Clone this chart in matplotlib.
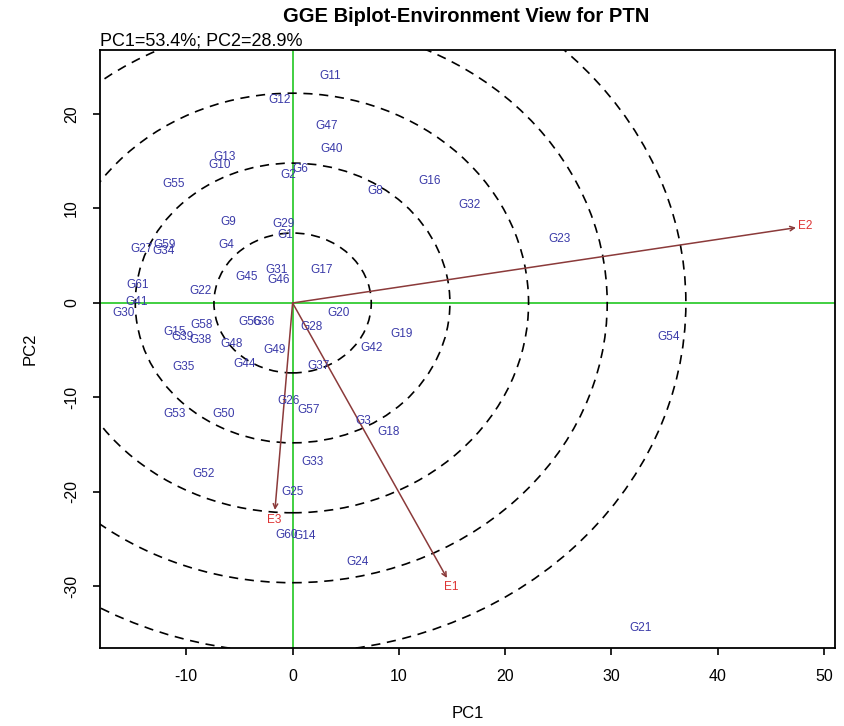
import numpy as np
import matplotlib
matplotlib.use("Agg")
import matplotlib.pyplot as plt
from matplotlib.patches import Circle

plt.rcParams['font.family'] = ['Liberation Sans', 'DejaVu Sans']

# Genotype scores on the first two principal components
genotypes = ["G11", "G12", "G47", "G40", "G13", "G10", "G55", "G2", "G6", "G8",
             "G16", "G32", "G23", "G9", "G29", "G1", "G4", "G27", "G59", "G34",
             "G61", "G41", "G30", "G22", "G45", "G31", "G46", "G17", "G20", "G28",
             "G19", "G42", "G37", "G49", "G44", "G48", "G56", "G36", "G58", "G15",
             "G39", "G38", "G35", "G26", "G57", "G53", "G50", "G3", "G18", "G33",
             "G52", "G25", "G60", "G14", "G24", "G54", "G21"]
g_pc1 = [3.52, -1.19, 3.24, 3.71, -6.36, -6.88, -11.2, -0.39, 0.70, 7.75,
         12.93, 16.69, 25.11, -6.03, -0.81, -0.71, -6.22, -14.21, -12.0, -12.14,
         -14.54, -14.64, -15.91, -8.71, -4.34, -1.47, -1.33, 2.72, 4.32, 1.78,
         10.24, 7.42, 2.44, -1.66, -4.48, -5.75, -4.01, -2.69, -8.57, -11.06,
         -10.40, -8.71, -10.26, -0.39, 1.50, -11.06, -6.50, 6.67, 9.02, 1.87,
         -8.38, -0.01, -0.57, 1.17, 6.11, 35.36, 32.78]
g_pc2 = [24.05, 21.48, 18.73, 16.30, 15.40, 14.60, 12.59, 13.49, 14.23, 11.80,
         12.86, 10.42, 6.77, 8.62, 8.41, 7.20, 6.14, 5.66, 6.14, 5.45,
         1.90, 0.11, -1.06, 1.27, 2.80, 3.49, 2.43, 3.49, -1.11, -2.59,
         -3.28, -4.81, -6.67, -4.97, -6.46, -4.34, -2.01, -2.01, -2.28, -3.07,
         -3.60, -3.92, -6.77, -10.42, -11.32, -11.80, -11.80, -12.49, -13.70, -16.88,
         -18.15, -19.95, -24.60, -24.71, -27.46, -3.65, -34.39]

# Environment vectors
environments = ["E1", "E2", "E3"]
e_pc1 = [14.52, 47.36, -1.66]
e_pc2 = [-29.10, 7.97, -21.90]

# Concentric reference circles around the biplot origin
circle_radii = [7.4, 14.8, 22.2, 29.6, 37.0]

x_ticks = [-10, 0, 10, 20, 30, 40, 50]
y_ticks = [-30, -20, -10, 0, 10, 20]

W, H = 845, 726
fig = plt.figure(figsize=(W / 100, H / 100), dpi=100)
box_l, box_r, box_t, box_b = 100, 835, 50, 648
ax = fig.add_axes([box_l / W, 1 - box_b / H, (box_r - box_l) / W,
                   (box_b - box_t) / H])
ax.set_xlim(-18.12, 51.03)
ax.set_ylim(-36.51, 26.77)

for r in circle_radii:
    ax.add_patch(Circle((0, 0), r, fill=False, ec="black", lw=1.2,
                        ls=(0, (5.5, 4)), zorder=2))

ax.axhline(0, color="#33cc33", lw=1.3, zorder=1)
ax.axvline(0, color="#33cc33", lw=1.3, zorder=1)

for name, x, y in zip(genotypes, g_pc1, g_pc2):
    ax.text(x, y, name, color="#3a3aa8", fontsize=8.5, ha="center",
            va="center", zorder=4)

for name, x, y in zip(environments, e_pc1, e_pc2):
    ax.annotate("", xy=(x, y), xytext=(0, 0),
                arrowprops=dict(arrowstyle="->", color="#8b3a3a", lw=1.1,
                                shrinkA=0, shrinkB=0, mutation_scale=8),
                zorder=3)
    d = np.hypot(x, y)
    ax.text(x, y, name, color="#dd3333", fontsize=8.5, ha="center",
            va="center", zorder=5,
            transform=ax.transData + matplotlib.transforms.ScaledTranslation(
                7 / 72 * x / d, 7 / 72 * y / d, fig.dpi_scale_trans))

ax.set_xticks(x_ticks)
ax.set_yticks(y_ticks)
ax.set_xticklabels([str(t) for t in x_ticks], fontsize=11.5)
ax.set_yticklabels([str(t) for t in y_ticks], fontsize=11.5, rotation=90,
                   va="center")
ax.tick_params(direction="out", length=5, width=1.2, pad=10)
for s in ax.spines.values():
    s.set_linewidth(1.3)

fig.text((box_l + box_r) / 2 / W, 1 - 713 / H, "PC1", ha="center",
         va="center", fontsize=12)
fig.text(30 / W, 1 - (box_t + box_b) / 2 / H, "PC2", ha="center",
         va="center", fontsize=12, rotation=90)

fig.text(466 / W, 1 - 17 / H, "GGE Biplot-Environment View for PTN",
         ha="center", va="center", fontsize=14.5, fontweight="bold")
fig.text(box_l / W, 1 - 41 / H, "PC1=53.4%; PC2=28.9%", ha="left",
         va="center", fontsize=13)

fig.savefig("out.png", dpi=100)
